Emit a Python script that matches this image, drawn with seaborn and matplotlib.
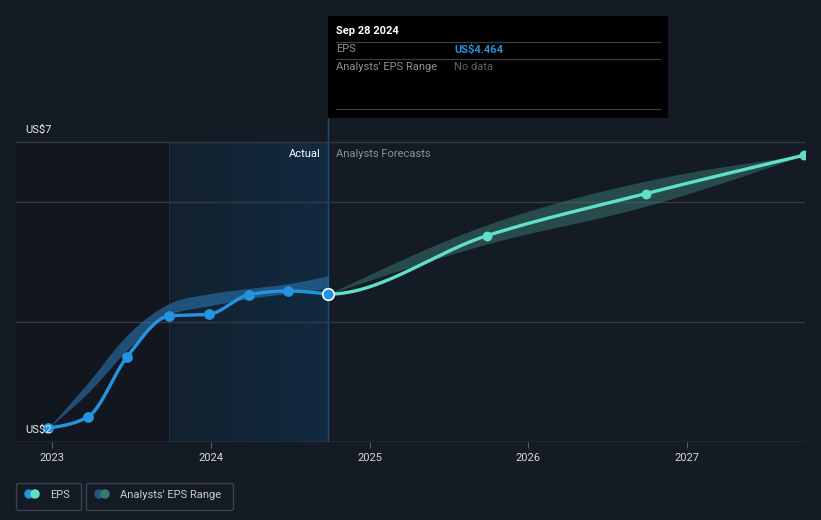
import numpy as np
import matplotlib
matplotlib.use("Agg")
import matplotlib.pyplot as plt
import seaborn as sns
import pandas as pd
from matplotlib.patches import FancyBboxPatch, Rectangle, Circle
from matplotlib.transforms import blended_transform_factory
from matplotlib.colors import LinearSegmentedColormap

# ---------------- data ----------------
actual_dates = [2022.977, 2023.228, 2023.474, 2023.74, 2023.99, 2024.24, 2024.49, 2024.74]
actual_eps = [2.233, 2.42, 3.42, 4.10, 4.13, 4.455, 4.517, 4.464]
hist_range_low = [2.233, 2.82, 3.53, 4.12, 4.27, 4.39, 4.48, 4.56]
hist_range_high = [2.233, 2.99, 3.78, 4.31, 4.47, 4.56, 4.64, 4.77]

forecast_dates = [2024.74, 2025.74, 2026.74, 2027.735]
forecast_eps = [4.464, 5.44, 6.14, 6.78]
forecast_low = [4.464, 5.30, 5.93, 6.78]
forecast_high = [4.464, 5.62, 6.35, 6.78]

year_ticks = [2023, 2024, 2025, 2026, 2027]
year_labels = ["2023", "2024", "2025", "2026", "2027"]
grid_values = [2, 4, 6, 7]
y_label_values = [7, 2]
y_label_texts = ["US$7", "US$2"]

actual_start = 2023.74   # start of the highlighted "past year" region
today = 2024.74

# ---------------- helpers ----------------
def monotone(x, y, n=60):
    """Monotone cubic (d3 curveMonotoneX style) for rendering smooth lines."""
    x = np.asarray(x, float); y = np.asarray(y, float)
    h = np.diff(x); s = np.diff(y) / h
    m = np.zeros_like(y)
    for i in range(1, len(y) - 1):
        if s[i - 1] * s[i] <= 0:
            m[i] = 0.0
        else:
            p = (s[i - 1] * h[i] + s[i] * h[i - 1]) / (h[i - 1] + h[i])
            m[i] = (np.sign(s[i - 1]) + np.sign(s[i])) * min(abs(s[i - 1]), abs(s[i]), 0.5 * abs(p))
    if len(y) > 2:
        m[0] = (3 * s[0] - m[1]) / 2
        m[-1] = (3 * s[-1] - m[-2]) / 2
    else:
        m[0] = m[-1] = s[0]
    xs, ys = [], []
    for i in range(len(h)):
        t = np.linspace(0, 1, n, endpoint=(i == len(h) - 1))
        h00 = 2 * t**3 - 3 * t**2 + 1
        h10 = t**3 - 2 * t**2 + t
        h01 = -2 * t**3 + 3 * t**2
        h11 = t**3 - t**2
        xs.append(x[i] + t * h[i])
        ys.append(h00 * y[i] + h10 * h[i] * m[i] + h01 * y[i + 1] + h11 * h[i] * m[i + 1])
    return np.concatenate(xs), np.concatenate(ys)

# ---------------- figure ----------------
W, H = 821, 520
sns.set_theme(style="dark")
plt.rcParams['font.family'] = ['Roboto', 'DejaVu Sans']
BG = "#151b25"
fig = plt.figure(figsize=(W / 100, H / 100), dpi=100, facecolor=BG)

def px(x0, y0, w, h):
    return [x0 / W, (H - y0 - h) / H, w / W, h / H]

ax = fig.add_axes(px(16, 118, 789, 324))
ax.set_facecolor(BG)
ax.set_xlim(2022.775, 2027.741)
ax.set_ylim(2.0, 7.4)
for sp in ax.spines.values():
    sp.set_visible(False)

top_frac = (7.0 - 2.0) / (7.4 - 2.0)
# background regions
ax.fill_between([2022.775, actual_start], 2.0, 7.0, color="#12161e", zorder=0, lw=0)
grad = np.linspace(0, 1, 256).reshape(1, -1)
cm = LinearSegmentedColormap.from_list("g", ["#13202e", "#112a40"])
ax.imshow(grad, cmap=cm, aspect="auto", extent=[actual_start, today, 2.0, 7.0], zorder=0.5)
ax.axvline(actual_start, ymax=top_frac, color="#1d2d3c", lw=0.8, zorder=1)
ax.axvline(today, ymin=0, ymax=1, color="#1f4f73", lw=1.0, zorder=1)

# grid lines
for g in grid_values:
    ax.axhline(g, color="#555a63" if g == 2 else "#343a44", lw=1.0, zorder=1)

# historic analyst range band
bx, bl = monotone(actual_dates, hist_range_low)
_, bh = monotone(actual_dates, hist_range_high)
ax.fill_between(bx, bl, bh, color="#2a74b0", alpha=0.6, lw=0, zorder=2)

# forecast band
fx, fl = monotone(forecast_dates, forecast_low)
_, fh = monotone(forecast_dates, forecast_high)
ax.fill_between(fx, fl, fh, color="#3a7a72", alpha=0.5, lw=0, zorder=2)

# actual EPS line
lx, ly = monotone(actual_dates, actual_eps)
sns.lineplot(x=lx, y=ly, ax=ax, color="#2394df", lw=2.4, zorder=4, sort=False)
sns.scatterplot(x=actual_dates[:-1], y=actual_eps[:-1], ax=ax, color="#2394df",
                s=60, linewidth=0, zorder=5)

# forecast line (use previous actual point for the tangent, draw from today on)
cx, cy = monotone([actual_dates[-2]] + forecast_dates, [actual_eps[-2]] + forecast_eps)
mask = cx >= today
sns.lineplot(x=cx[mask], y=cy[mask], ax=ax, color="#5fe0c8", lw=2.4, zorder=4, sort=False)
sns.scatterplot(x=forecast_dates[1:], y=forecast_eps[1:], ax=ax, color="#5fe0c8",
                s=50, linewidth=0, zorder=5)
sns.scatterplot(x=[actual_dates[-1]], y=[actual_eps[-1]], ax=ax, color="#2394df",
                s=70, edgecolor="white", linewidth=1.2, zorder=6)

# axes labels/ticks
ax.set_xticks(year_ticks)
ax.set_xticklabels(year_labels, color="#d6d8dc", fontsize=8)
ax.tick_params(axis="x", length=4, width=0.8, color="#555a63", pad=4, bottom=True)
ax.set_yticks([])
ax.set_xlabel(""); ax.set_ylabel("")
ax.grid(False)

tr = blended_transform_factory(ax.transAxes, ax.transData)
for v, t in zip(y_label_values, y_label_texts):
    ax.annotate(t, xy=(0, v), xycoords=tr, xytext=(9, 12), textcoords="offset pixels",
                color="#e6e8ea", fontsize=8, va="center", ha="left", zorder=7)

ax.annotate("Actual", xy=(today, 7.0), xycoords="data", xytext=(-8, -12),
            textcoords="offset pixels", color="#ffffff", fontsize=8, ha="right", va="center")
ax.annotate("Analysts Forecasts", xy=(today, 7.0), xycoords="data", xytext=(8, -12),
            textcoords="offset pixels", color="#8b9098", fontsize=8, ha="left", va="center")

# ---------------- overlay (tooltip + legend) ----------------
ov = fig.add_axes([0, 0, 1, 1], facecolor="none")
ov.set_xlim(0, W); ov.set_ylim(H, 0); ov.axis("off")

ov.add_patch(Rectangle((328, 16), 340, 102, facecolor="#000000", edgecolor="none", zorder=1))
for yy in (41.5, 58.5, 109):
    ov.plot([336, 660], [yy, yy], color="#3a3d42", lw=0.9, zorder=2)
ov.text(336, 31, "Sep 28 2024", color="#ffffff", fontsize=8, fontweight="bold", va="center", zorder=3)
ov.text(336, 49.5, "EPS", color="#8b8f95", fontsize=8, va="center", zorder=3)
ov.text(454, 49.5, "US$4.464", color="#2a8fd8", fontsize=8, fontweight="bold", va="center", zorder=3)
ov.text(336, 66.5, "Analysts' EPS Range", color="#8b8f95", fontsize=8, va="center", zorder=3)
ov.text(454, 66.5, "No data", color="#5f636a", fontsize=8, va="center", zorder=3)

# legend
for (x0, w) in ((16.5, 65), (86.5, 147)):
    ov.add_patch(FancyBboxPatch((x0, 483.5), w, 27, boxstyle="round,pad=0,rounding_size=2",
                                facecolor="none", edgecolor="#3c424b", lw=1.0))
ov.add_patch(Circle((29, 494), 4, color="#2394df"))
ov.add_patch(Circle((35, 494), 4, color="#5fe0c8"))
ov.text(50, 494.5, "EPS", color="#c9ccd1", fontsize=8, va="center")
ov.add_patch(Circle((99, 494), 4, color="#1f5a87"))
ov.add_patch(Circle((105, 494), 4, color="#3a7a72"))
ov.text(120, 494.5, "Analysts' EPS Range", color="#c9ccd1", fontsize=8, va="center")

fig.savefig("out.png", dpi=100, facecolor=BG)
